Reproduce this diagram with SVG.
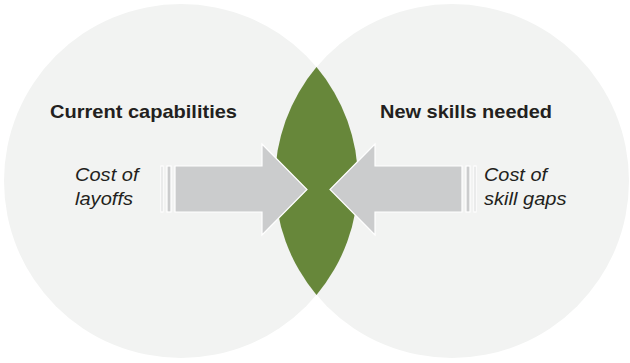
<svg xmlns="http://www.w3.org/2000/svg" width="630" height="363" viewBox="0 0 630 363">
  <style>
    .circle { fill: #f2f3f2; }
    .lens { fill: #67873a; }
    .arrow { fill: #cbcccd; stroke: #ffffff; stroke-width: 1.2; }
    .title { font-family: "Liberation Sans", Arial, sans-serif; font-weight: bold; font-size: 18.6px; fill: #231f20; }
    .label { font-family: "Liberation Sans", Arial, sans-serif; font-style: italic; font-size: 18px; fill: #231f20; }
  </style>
  <rect x="0" y="0" width="630" height="363" fill="#ffffff"/>
  <g id="node-current">
    <circle class="circle" cx="181" cy="181" r="177"/>
    <text class="title" x="50" y="118.3" textLength="187" lengthAdjust="spacingAndGlyphs">Current capabilities</text>
  </g>
  <g id="node-new">
    <circle class="circle" cx="452" cy="181" r="177"/>
    <text class="title" x="380" y="118.3" textLength="172" lengthAdjust="spacingAndGlyphs">New skills needed</text>
  </g>
  <g id="node-overlap">
    <path class="lens" d="M316.5,67.1 A177,177 0 0,0 316.5,294.9 A177,177 0 0,0 316.5,67.1 Z"/>
  </g>
  <g id="connectors">
    <g id="arrow-left">
      <rect class="arrow" x="161" y="166" width="2" height="46"/>
      <rect class="arrow" x="167" y="166" width="4" height="46"/>
      <polygon class="arrow" points="175,166 262,166 262,144 307,189.5 262,235 262,212 175,212"/>
    </g>
    <g id="arrow-right">
      <rect class="arrow" x="474" y="166" width="2" height="46"/>
      <rect class="arrow" x="466" y="166" width="4" height="46"/>
      <polygon class="arrow" points="462,166 375,166 375,144 330,189.5 375,235 375,212 462,212"/>
    </g>
  </g>
  <g id="label-layoffs">
    <text class="label" x="75" y="181" textLength="63.5" lengthAdjust="spacingAndGlyphs">Cost of</text>
    <text class="label" x="75" y="205" textLength="58" lengthAdjust="spacingAndGlyphs">layoffs</text>
  </g>
  <g id="label-gaps">
    <text class="label" x="484" y="181" textLength="63" lengthAdjust="spacingAndGlyphs">Cost of</text>
    <text class="label" x="484" y="205" textLength="82.5" lengthAdjust="spacingAndGlyphs">skill gaps</text>
  </g>
</svg>
